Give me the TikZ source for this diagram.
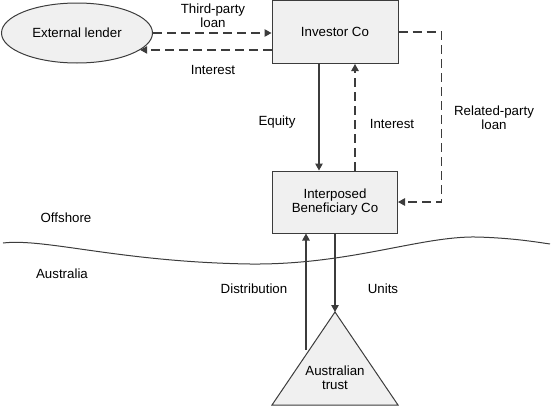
\documentclass[tikz,border=0pt]{standalone}
\usepackage{fontspec}
\setmainfont{Liberation Sans}
\usepackage{tikz}
\usetikzlibrary{shapes, arrows.meta}
\definecolor{boxgrey}{HTML}{F0F0F0}
\definecolor{linegrey}{HTML}{3C3C3C}

\begin{document}
\begin{tikzpicture}[x=1pt,y=-1pt,font=\fontsize{13.3}{14}\selectfont,
  entity/.style={draw=linegrey, fill=boxgrey, line width=1pt, align=center},
  flow/.style={draw=linegrey, line width=1.2pt, -{Triangle[length=7pt,width=7.5pt]}},
  dashflow/.style={flow, dash pattern=on 9pt off 5pt},
  lbl/.style={align=center, text=black}]
  \useasboundingbox (0,0) rectangle (555,410);
  % the two sides
  \draw[linegrey, line width=1pt] (3,243) .. controls (45,238) and (120,262) .. (250,264)
    .. controls (350,265) and (420,236) .. (477,237) .. controls (510,238) and (530,241) .. (550,244);
  \node[lbl] (offshore) at (66,218) {Offshore};
  \node[lbl] (australia) at (62,274) {Australia};
  % parties
  \node[entity, ellipse, minimum width=151pt, minimum height=60pt] (lender) at (77,33) {External lender};
  \node[entity, minimum width=126pt, minimum height=63pt] (investor) at (335,32) {Investor Co};
  \node[entity, minimum width=125pt, minimum height=62pt] (ibc) at (335,202) {Interposed\\Beneficiary Co};
  \coordinate (apex) at (335,312);
  \coordinate (baseL) at (272,405);
  \coordinate (baseR) at (398,405);
  \draw[entity] (apex) -- (baseR) -- (baseL) -- cycle;
  \node[lbl] (trust) at (335,378) {Australian\\trust};
  \coordinate (trustside) at (306,350);
  % flows
  \draw[dashflow] (lender.east) -- (investor.west |- lender.east);
  \draw[dashflow] (investor.west |- lender.-15) -- (lender.-15);
  \draw[flow] ([xshift=-16pt]investor.south) -- ([xshift=-16pt]ibc.north);
  \draw[dashflow] ([xshift=20pt]ibc.north) -- ([xshift=20pt]investor.south);
  \draw[dashflow] (investor.east) -- ++(43,0) |- (ibc.east);
  \draw[flow] (ibc.south) -- (apex);
  \draw[flow] (trustside) -- (trustside |- ibc.south);
  % labels
  \node[lbl] (tploan) at (213,16) {Third-party\\loan};
  \node[lbl] (extint) at (213,70) {Interest};
  \node[lbl] (equity) at (277,122) {Equity};
  \node[lbl] (rpint) at (392,124) {Interest};
  \node[lbl] (rploan) at (494,118) {Related-party\\loan};
  \node[lbl] (distr) at (254,289) {Distribution};
  \node[lbl] (units) at (383,289) {Units};
\end{tikzpicture}
\end{document}
